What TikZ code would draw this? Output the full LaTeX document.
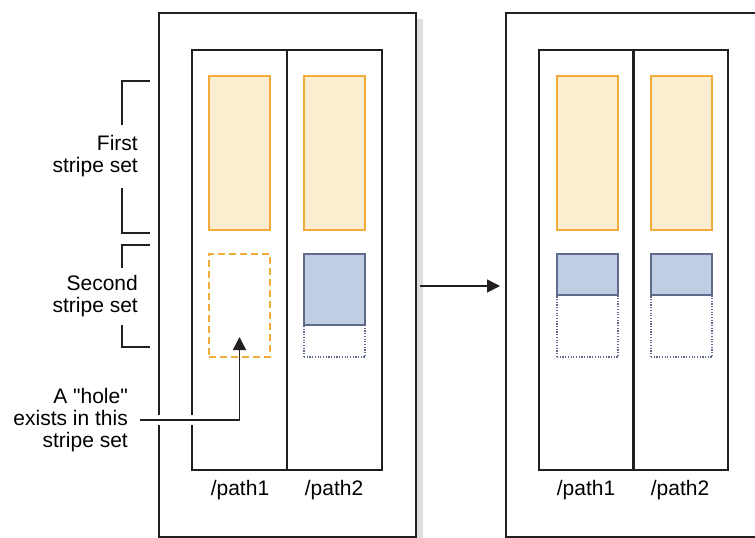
\documentclass[tikz,border=0pt]{standalone}
\usepackage{fontspec}
\newfontfamily\diagramfont{Liberation Sans}
\usetikzlibrary{arrows.meta}
\definecolor{ink}{RGB}{35,31,32}
\definecolor{stripeline}{RGB}{242,172,58}
\definecolor{stripefill}{RGB}{252,236,208}
\definecolor{blueline}{RGB}{96,106,140}
\definecolor{bluefill}{RGB}{193,205,226}
\definecolor{shadowgray}{RGB}{222,222,222}
\tikzset{
  panel/.style={draw=ink, line width=1.5pt, inner sep=0pt, outer sep=0pt, anchor=north west},
  column/.style={panel, minimum width=95pt, minimum height=420pt},
  full/.style={draw=stripeline, fill=stripefill, line width=1.5pt, inner sep=0pt, outer sep=0pt,
    anchor=north west, minimum width=61pt, minimum height=154pt},
  hole/.style={draw=stripeline, dash pattern=on 7pt off 4pt, line width=1.5pt, inner sep=0pt,
    outer sep=0pt, anchor=north west, minimum width=61pt, minimum height=103pt},
  slot/.style={draw=blueline, dash pattern=on 1.2pt off 1.5pt, line width=1.2pt, inner sep=0pt,
    outer sep=0pt, anchor=north west, minimum width=61pt, minimum height=103pt},
  part/.style={draw=blueline, fill=bluefill, line width=1.5pt, inner sep=0pt, outer sep=0pt,
    anchor=north west, minimum width=61pt},
  note/.style={font=\diagramfont\fontsize{21}{22}\selectfont, align=right, inner sep=0pt, anchor=east},
  pathname/.style={font=\diagramfont\fontsize{21}{22}\selectfont, inner sep=0pt},
  bracket/.style={draw=ink, line width=1.2pt},
  connector/.style={draw=ink, line width=1.5pt, -{Triangle[length=13pt,width=13pt]}}
}
\begin{document}
\begin{tikzpicture}[x=1pt,y=-1pt]
        \clip (0,0) rectangle (755,538);
        \fill[shadowgray] (416,19) rectangle (423,538);
        \node[panel, minimum width=257pt, minimum height=524pt] (left) at (159,13) {};
        \node[panel, minimum width=280pt, minimum height=524pt] (right) at (506,13) {};
        \node[column] (colA) at (192,50) {};
        \node[column] (colB) at (287,50) {};
        \node[column] (colC) at (539,50) {};
        \node[column] (colD) at (633,50) {};
        \node[full] (fullA) at (209,76) {};
        \node[full] (fullB) at (304,76) {};
        \node[full] (fullC) at (557,76) {};
        \node[full] (fullD) at (651,76) {};
        \node[hole] (holeA) at (209,254) {};
        \node[slot] (slotB) at (304,254) {};
        \node[slot] (slotC) at (557,254) {};
        \node[slot] (slotD) at (651,254) {};
        \node[part, minimum height=71pt] (partB) at (304,254) {};
        \node[part, minimum height=41pt] (partC) at (557,254) {};
        \node[part, minimum height=41pt] (partD) at (651,254) {};
        \node[pathname] (pathA) at (240,490) {/path1};
        \node[pathname] (pathB) at (334,490) {/path2};
        \node[pathname] (pathC) at (586,490) {/path1};
        \node[pathname] (pathD) at (680,490) {/path2};
        \node[note] (first) at (138,156) {First\\stripe set};
        \node[note] (second) at (138,296) {Second\\stripe set};
        \node[note] (holetext) at (128,420) {A "hole"\\exists in this\\stripe set};
        \draw[bracket] (150,81) -| (122,125);
        \draw[bracket] (122,188) |- (150,233);
        \draw[bracket] (150,245) -| (122,268);
        \draw[bracket] (122,325) |- (150,347);
        \coordinate (holefrom) at (140,420);
        \coordinate (go) at (420,286);
        \draw[white, line width=10pt] (150,420) -- (200,420);
        \draw[connector] (holefrom) -| ([yshift=20pt]holeA.south);
        \draw[connector, shorten >=6pt] (go) -- (go -| right.west);
    \end{tikzpicture}
\end{document}
